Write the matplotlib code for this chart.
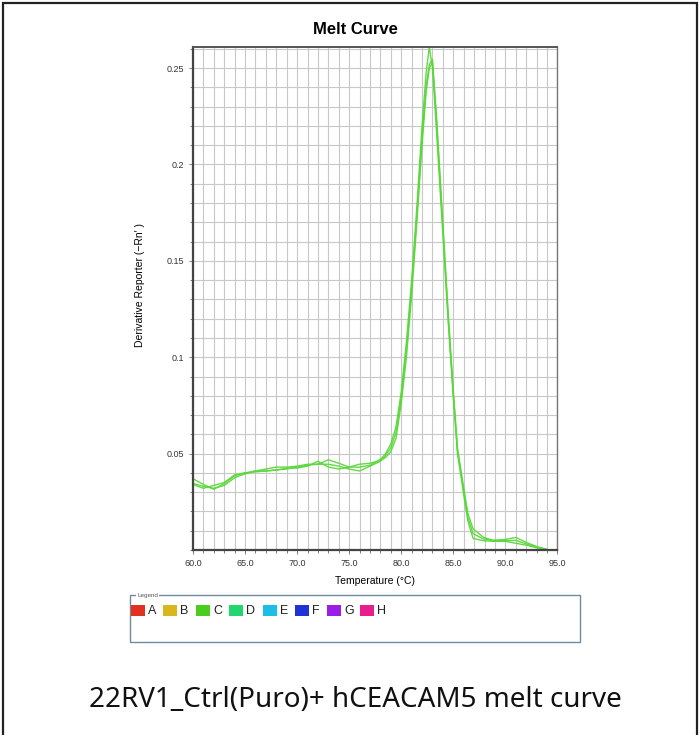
import matplotlib
matplotlib.use("Agg")
import matplotlib.pyplot as plt
from matplotlib.patches import Rectangle
from matplotlib.ticker import MultipleLocator, FixedLocator, FuncFormatter

plt.rcParams['font.family'] = ['Liberation Sans', 'DejaVu Sans']

# ---------------- data ----------------
temps = [60, 61, 62, 63, 64, 65, 66, 67, 68, 69, 70, 71, 72, 73, 74, 75, 76, 77,
         78, 78.5, 79, 79.5, 80, 80.5, 81, 81.5, 82, 82.4, 82.7, 83.0, 83.4, 83.8,
         84.2, 84.5, 85.0, 85.4, 85.8, 86.1, 86.4, 86.9, 87.9, 88.8, 90.0, 91.0,
         92.0, 93.0, 93.9]

well_1 = [0.037, 0.034, 0.0315, 0.0345, 0.0385, 0.040, 0.041, 0.041, 0.0415, 0.042,
          0.043, 0.044, 0.0445, 0.0468, 0.045, 0.043, 0.043, 0.044,
          0.047, 0.050, 0.055, 0.064, 0.082, 0.108, 0.140, 0.178, 0.220, 0.248,
          0.261, 0.250, 0.216, 0.181, 0.146, 0.119, 0.079, 0.050,
          0.036, 0.025, 0.015, 0.006, 0.0048, 0.0045, 0.0045, 0.0035,
          0.0025, 0.0012, 0.0004]

well_2 = [0.0345, 0.033, 0.032, 0.0335, 0.0375, 0.0395, 0.041, 0.042, 0.043, 0.043,
          0.0435, 0.0445, 0.0445, 0.0445, 0.0435, 0.042, 0.041, 0.0435,
          0.046, 0.049, 0.053, 0.061, 0.079, 0.104, 0.136, 0.173, 0.214, 0.241,
          0.252, 0.2545, 0.222, 0.185, 0.149, 0.122, 0.081, 0.052,
          0.038, 0.027, 0.017, 0.0085, 0.0057, 0.005, 0.0055, 0.0065,
          0.0040, 0.0018, 0.0005]

well_3 = [0.034, 0.032, 0.0335, 0.035, 0.039, 0.040, 0.0405, 0.041, 0.0415, 0.0425,
          0.0425, 0.0435, 0.046, 0.043, 0.042, 0.043, 0.0445, 0.045,
          0.0465, 0.048, 0.051, 0.058, 0.076, 0.100, 0.132, 0.170, 0.210, 0.238,
          0.250, 0.253, 0.224, 0.188, 0.151, 0.124, 0.083, 0.053,
          0.039, 0.029, 0.019, 0.011, 0.0066, 0.005, 0.0048, 0.005,
          0.0032, 0.0015, 0.0004]

series = [well_1, well_2, well_3]

legend_labels = ["A", "B", "C", "D", "E", "F", "G", "H"]
legend_colors = ["#e0321e", "#d9b61c", "#4ccc1e", "#22d66e", "#1ebde8", "#1e32d8", "#9a1ee8", "#e81e8c"]

x_major = [60, 65, 70, 75, 80, 85, 90, 95]
y_major = [0.05, 0.1, 0.15, 0.2, 0.25]

W, H = 700, 735
fig = plt.figure(figsize=(W / 100, H / 100), dpi=100)
fig.patch.set_facecolor("white")

def fx(px):
    return px / W

def fy(py):
    return 1 - py / H

# outer frame (bottom edge lies outside the canvas)
fig.add_artist(Rectangle((fx(3), fy(745)), fx(694), 742 / H, transform=fig.transFigure,
                         fill=False, edgecolor="#222222", linewidth=1.6, clip_on=False))

ax = fig.add_axes([fx(193), fy(550), fx(557.4 - 193), (550 - 46.5) / H])
ax.set_xlim(60, 95)
ax.set_ylim(0, 0.2612)

ax.xaxis.set_major_locator(FixedLocator(x_major))
ax.xaxis.set_minor_locator(MultipleLocator(1))
ax.yaxis.set_major_locator(FixedLocator(y_major))
ax.yaxis.set_minor_locator(MultipleLocator(0.01))
ax.xaxis.set_major_formatter(FuncFormatter(lambda v, p: f"{v:.1f}"))
ax.yaxis.set_major_formatter(FuncFormatter(lambda v, p: f"{v:g}"))

ax.grid(True, which="both", color="#c8c8c8", linewidth=0.8)
ax.set_axisbelow(True)
ax.tick_params(which="both", direction="out", colors="#666666", labelcolor="#333333",
               labelsize=6.5, length=3, width=0.6)
ax.tick_params(which="minor", length=2)

for s in ax.spines.values():
    s.set_color("#777777")
    s.set_linewidth(1.0)
ax.spines["left"].set_color("#444444")
ax.spines["left"].set_linewidth(1.6)
ax.spines["bottom"].set_color("#444444")
ax.spines["bottom"].set_linewidth(1.6)
ax.spines["top"].set_color("#555555")
ax.spines["top"].set_linewidth(1.4)

for vals in series:
    ax.plot(temps, vals, color="#5ad83a", linewidth=1.0, alpha=0.95)

fig.text(fx(355), fy(30), "Melt Curve", ha="center", va="center", fontsize=12,
         fontweight="bold")
fig.text(fx(140), fy(285), "Derivative Reporter (\u2212Rn\u2032 )", ha="center", va="center",
         rotation=90, fontsize=7.5)
fig.text(fx(375), fy(581), "Temperature (\u00b0C)", ha="center", va="center", fontsize=7.5)

# legend box
lx0, lx1, ly0, ly1 = 130, 580, 595, 642
fig.add_artist(Rectangle((fx(lx0), fy(ly1)), fx(lx1 - lx0), (ly1 - ly0) / H,
                         transform=fig.transFigure, fill=False, edgecolor="#6f8a9a",
                         linewidth=1.0))
fig.text(fx(137), fy(595), "Legend", ha="left", va="center", fontsize=4.5, color="#555555",
         bbox=dict(facecolor="white", edgecolor="none", pad=0.5))
sq_x = [131, 163, 196, 229, 263, 295, 327, 360]
for x0, lab, col in zip(sq_x, legend_labels, legend_colors):
    fig.add_artist(Rectangle((fx(x0), fy(616)), fx(14), 11 / H, transform=fig.transFigure,
                             facecolor=col, edgecolor="none"))
    fig.text(fx(x0 + 17), fy(610.5), lab, ha="left", va="center", fontsize=9, color="#222222")

fig.text(fx(355), fy(700), "22RV1_Ctrl(Puro)+ hCEACAM5 melt curve", ha="center", va="center",
         fontsize=20, family=["Noto Sans", "DejaVu Sans"], color="#111111")

fig.savefig("out.png", dpi=100)
